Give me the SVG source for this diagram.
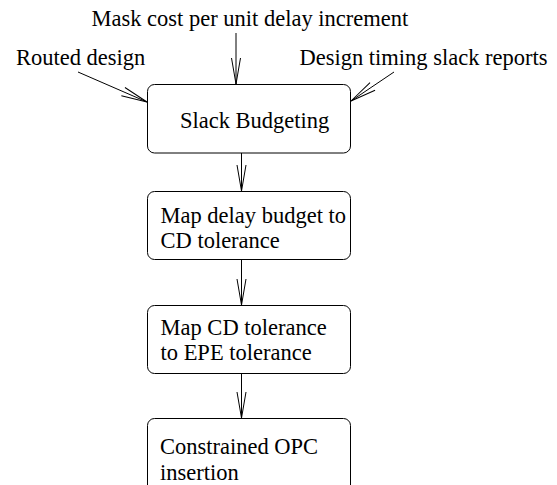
<svg xmlns="http://www.w3.org/2000/svg" width="557" height="485" viewBox="0 0 557 485">
  <style>
    .box { fill: #fff; stroke: #000; stroke-width: 1; }
    .lbl { font-size: 22.5px; fill: #000; }
    .wire { fill: none; stroke: #000; stroke-width: 1; }
  </style>
  <defs>
    <marker id="open" markerUnits="userSpaceOnUse" markerWidth="30" markerHeight="12" refX="0" refY="0" viewBox="-28 -6 30 12" orient="auto">
      <path d="M -26 -4.5 L 0 0 L -26 4.5" fill="none" stroke="#000" stroke-width="1"/>
    </marker>
  </defs>
  <rect width="557" height="485" fill="#fff"/>

  <g font-family="'Liberation Serif', Tinos, 'Times New Roman', serif">
    <!-- input labels -->
    <g id="inputs">
      <text class="lbl" x="91.5" y="26">Mask cost per unit delay increment</text>
      <text class="lbl" x="16" y="65">Routed design</text>
      <text class="lbl" x="299.5" y="65">Design timing slack reports</text>
    </g>

    <!-- process boxes -->
    <g id="slack-budgeting">
      <rect class="box" x="147.5" y="84.5" width="203" height="68.5" rx="7"/>
      <text class="lbl" x="180" y="128">Slack Budgeting</text>
    </g>
    <g id="map-delay">
      <rect class="box" x="147.5" y="191.5" width="203" height="68" rx="7"/>
      <text class="lbl" x="160.5" y="222.7">Map delay budget to</text>
      <text class="lbl" x="160.5" y="248">CD tolerance</text>
    </g>
    <g id="map-cd">
      <rect class="box" x="147.5" y="305.5" width="203" height="68" rx="7"/>
      <text class="lbl" x="160.5" y="334.5">Map CD tolerance</text>
      <text class="lbl" x="160.5" y="360">to EPE tolerance</text>
    </g>
    <g id="opc">
      <rect class="box" x="147.5" y="418.5" width="203" height="80" rx="7"/>
      <text class="lbl" x="160" y="454">Constrained OPC</text>
      <text class="lbl" x="160" y="480">insertion</text>
    </g>
  </g>

  <!-- connectors -->
  <g id="connectors">
    <path class="wire" d="M 236 33 L 236 84" marker-end="url(#open)"/>
    <path class="wire" d="M 78 72 L 147 102" marker-end="url(#open)"/>
    <path class="wire" d="M 394 72 L 351 101" marker-end="url(#open)"/>
    <path class="wire" d="M 241.5 153 L 241.5 191" marker-end="url(#open)"/>
    <path class="wire" d="M 241.5 259.5 L 241.5 305" marker-end="url(#open)"/>
    <path class="wire" d="M 241.5 373.5 L 241.5 418" marker-end="url(#open)"/>
  </g>
</svg>
